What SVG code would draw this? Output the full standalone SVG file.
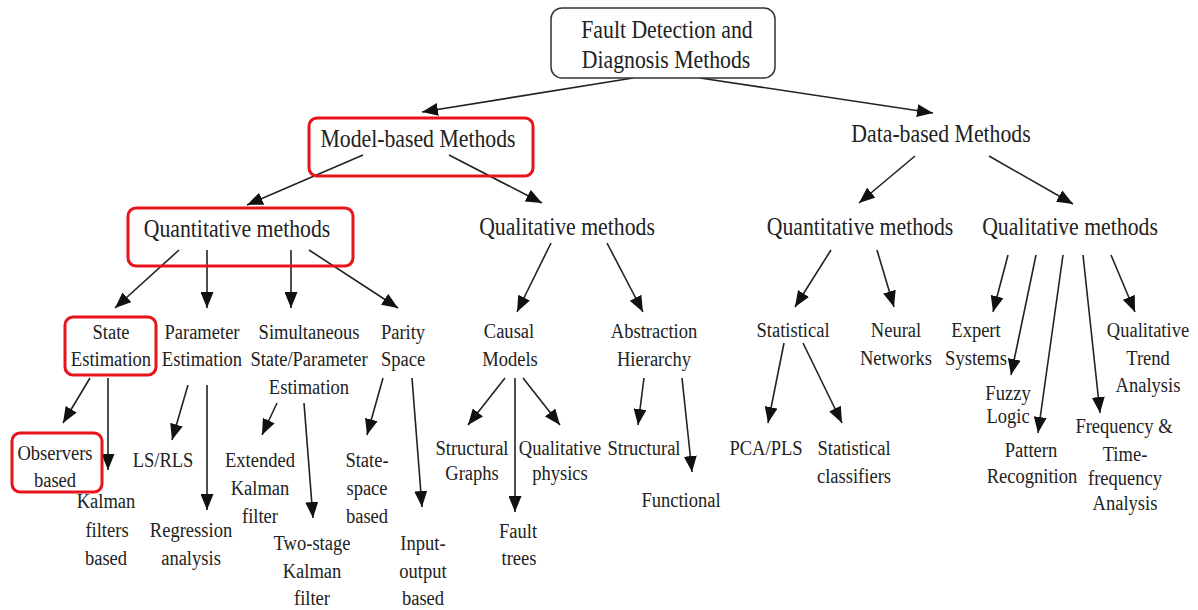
<svg xmlns="http://www.w3.org/2000/svg" width="1198" height="610" viewBox="0 0 1198 610">
  <style>
    text { font-family: "Liberation Serif", "Times New Roman", serif; fill: #222; text-anchor: middle; }
    .t1 { font-size: 25px; }
    .t2 { font-size: 21.3px; }
    .root { fill: #fff; stroke: #333; stroke-width: 1.5; }
    .hl { fill: none; stroke: #e8141c; stroke-width: 3; }
    .edge { fill: none; stroke: #222; stroke-width: 1.6; marker-end: url(#arrow); }
  </style>
  <defs>
    <marker id="arrow" markerUnits="userSpaceOnUse" markerWidth="16" markerHeight="13" refX="16" refY="6.5" orient="auto">
      <path d="M0,0 L16,6.5 L0,13 z" fill="#111"/>
    </marker>
  </defs>
  <rect width="1198" height="610" fill="#fff"/>

  <!-- connectors -->
  <g id="connectors">
    <line class="edge" x1="633" y1="78" x2="422" y2="112"/>
    <line class="edge" x1="700" y1="78" x2="933" y2="113"/>
    <line class="edge" x1="363" y1="155" x2="247" y2="205"/>
    <line class="edge" x1="449" y1="155" x2="542" y2="203"/>
    <line class="edge" x1="915" y1="156" x2="859" y2="203"/>
    <line class="edge" x1="989" y1="156" x2="1073" y2="204"/>

    <line class="edge" x1="179" y1="250" x2="115" y2="308"/>
    <line class="edge" x1="207" y1="250" x2="207" y2="308"/>
    <line class="edge" x1="291" y1="250" x2="291" y2="308"/>
    <line class="edge" x1="309" y1="250" x2="398" y2="308"/>

    <line class="edge" x1="551" y1="243" x2="517" y2="312"/>
    <line class="edge" x1="607" y1="243" x2="643" y2="312"/>

    <line class="edge" x1="831" y1="250" x2="795" y2="307"/>
    <line class="edge" x1="877" y1="250" x2="894" y2="307"/>

    <line class="edge" x1="1008" y1="255" x2="993" y2="312"/>
    <line class="edge" x1="1036" y1="255" x2="1011" y2="375"/>
    <line class="edge" x1="1063" y1="255" x2="1038" y2="433"/>
    <line class="edge" x1="1083" y1="255" x2="1100" y2="413"/>
    <line class="edge" x1="1111" y1="255" x2="1135" y2="312"/>

    <line class="edge" x1="90" y1="378" x2="63" y2="423"/>
    <line class="edge" x1="108" y1="378" x2="108" y2="470"/>
    <line class="edge" x1="188" y1="385" x2="172" y2="440"/>
    <line class="edge" x1="207" y1="385" x2="207" y2="510"/>
    <line class="edge" x1="277" y1="403" x2="262" y2="435"/>
    <line class="edge" x1="304" y1="403" x2="313" y2="518"/>
    <line class="edge" x1="383" y1="378" x2="367" y2="435"/>
    <line class="edge" x1="412" y1="378" x2="422" y2="507"/>

    <line class="edge" x1="505" y1="378" x2="468" y2="425"/>
    <line class="edge" x1="515" y1="378" x2="515" y2="512"/>
    <line class="edge" x1="523" y1="378" x2="560" y2="425"/>
    <line class="edge" x1="644" y1="378" x2="638" y2="425"/>
    <line class="edge" x1="682" y1="378" x2="692" y2="472"/>

    <line class="edge" x1="784" y1="343" x2="768" y2="423"/>
    <line class="edge" x1="803" y1="343" x2="842" y2="423"/>
  </g>

  <!-- root -->
  <g id="fdd-methods">
    <rect class="root" x="551" y="8" width="224" height="70" rx="11"/>
    <text class="t1" transform="translate(667,38) scale(0.87,1)">Fault Detection and</text>
    <text class="t1" transform="translate(666,68) scale(0.87,1)">Diagnosis Methods</text>
  </g>

  <!-- level 1 -->
  <g id="model-based">
    <rect class="hl" x="309" y="118" width="224" height="58" rx="8"/>
    <text class="t1" transform="translate(418,147) scale(0.87,1)">Model-based Methods</text>
  </g>
  <g id="data-based">
    <text class="t1" transform="translate(941,142) scale(0.87,1)">Data-based Methods</text>
  </g>

  <!-- level 2 -->
  <g id="model-quantitative">
    <rect class="hl" x="128" y="208" width="225" height="58" rx="8"/>
    <text class="t1" transform="translate(237,237) scale(0.87,1)">Quantitative methods</text>
  </g>
  <g id="model-qualitative">
    <text class="t1" transform="translate(567,235) scale(0.87,1)">Qualitative methods</text>
  </g>
  <g id="data-quantitative">
    <text class="t1" transform="translate(860,235) scale(0.87,1)">Quantitative methods</text>
  </g>
  <g id="data-qualitative">
    <text class="t1" transform="translate(1070,235) scale(0.87,1)">Qualitative methods</text>
  </g>

  <!-- level 3: model-based quantitative -->
  <g id="state-estimation">
    <rect class="hl" x="65" y="317" width="91" height="58" rx="8"/>
    <text class="t2" transform="translate(111,339) scale(0.87,1)">State</text>
    <text class="t2" transform="translate(111,366) scale(0.87,1)">Estimation</text>
  </g>
  <g id="parameter-estimation">
    <text class="t2" transform="translate(202,339) scale(0.87,1)">Parameter</text>
    <text class="t2" transform="translate(202,366) scale(0.87,1)">Estimation</text>
  </g>
  <g id="simultaneous-estimation">
    <text class="t2" transform="translate(309,339) scale(0.87,1)">Simultaneous</text>
    <text class="t2" transform="translate(309,366) scale(0.87,1)">State/Parameter</text>
    <text class="t2" transform="translate(309,394) scale(0.87,1)">Estimation</text>
  </g>
  <g id="parity-space">
    <text class="t2" transform="translate(403,339) scale(0.87,1)">Parity</text>
    <text class="t2" transform="translate(403,366) scale(0.87,1)">Space</text>
  </g>

  <!-- level 3: model-based qualitative -->
  <g id="causal-models">
    <text class="t2" transform="translate(509,338) scale(0.87,1)">Causal</text>
    <text class="t2" transform="translate(510,366) scale(0.87,1)">Models</text>
  </g>
  <g id="abstraction-hierarchy">
    <text class="t2" transform="translate(654,338) scale(0.87,1)">Abstraction</text>
    <text class="t2" transform="translate(654,366) scale(0.87,1)">Hierarchy</text>
  </g>

  <!-- level 3: data-based -->
  <g id="statistical">
    <text class="t2" transform="translate(793,337) scale(0.87,1)">Statistical</text>
  </g>
  <g id="neural-networks">
    <text class="t2" transform="translate(896,337) scale(0.87,1)">Neural</text>
    <text class="t2" transform="translate(896,365) scale(0.87,1)">Networks</text>
  </g>
  <g id="expert-systems">
    <text class="t2" transform="translate(976,337) scale(0.87,1)">Expert</text>
    <text class="t2" transform="translate(976,365) scale(0.87,1)">Systems</text>
  </g>
  <g id="qualitative-trend">
    <text class="t2" transform="translate(1148,337) scale(0.87,1)">Qualitative</text>
    <text class="t2" transform="translate(1148,365) scale(0.87,1)">Trend</text>
    <text class="t2" transform="translate(1148,392) scale(0.87,1)">Analysis</text>
  </g>
  <g id="fuzzy-logic">
    <text class="t2" transform="translate(1008,400) scale(0.87,1)">Fuzzy</text>
    <text class="t2" transform="translate(1008,423) scale(0.87,1)">Logic</text>
  </g>
  <g id="pattern-recognition">
    <text class="t2" transform="translate(1031,457) scale(0.87,1)">Pattern</text>
    <text class="t2" transform="translate(1032,483) scale(0.87,1)">Recognition</text>
  </g>
  <g id="frequency-analysis">
    <text class="t2" transform="translate(1124,433) scale(0.87,1)">Frequency &amp;</text>
    <text class="t2" transform="translate(1125,461) scale(0.87,1)">Time-</text>
    <text class="t2" transform="translate(1125,485) scale(0.87,1)">frequency</text>
    <text class="t2" transform="translate(1125,510) scale(0.87,1)">Analysis</text>
  </g>
  <g id="pca-pls">
    <text class="t2" transform="translate(766,455) scale(0.87,1)">PCA/PLS</text>
  </g>
  <g id="statistical-classifiers">
    <text class="t2" transform="translate(854,455) scale(0.87,1)">Statistical</text>
    <text class="t2" transform="translate(854,483) scale(0.87,1)">classifiers</text>
  </g>

  <!-- level 4: model-based leaves -->
  <g id="observers-based">
    <rect class="hl" x="12" y="433" width="90" height="59" rx="8"/>
    <text class="t2" transform="translate(55,460) scale(0.87,1)">Observers</text>
    <text class="t2" transform="translate(55,487) scale(0.87,1)">based</text>
  </g>
  <g id="kalman-filters">
    <text class="t2" transform="translate(106,508) scale(0.87,1)">Kalman</text>
    <text class="t2" transform="translate(107,537) scale(0.87,1)">filters</text>
    <text class="t2" transform="translate(106,565) scale(0.87,1)">based</text>
  </g>
  <g id="ls-rls">
    <text class="t2" transform="translate(163,467) scale(0.87,1)">LS/RLS</text>
  </g>
  <g id="regression">
    <text class="t2" transform="translate(191,537) scale(0.87,1)">Regression</text>
    <text class="t2" transform="translate(191,565) scale(0.87,1)">analysis</text>
  </g>
  <g id="extended-kalman">
    <text class="t2" transform="translate(260,467) scale(0.87,1)">Extended</text>
    <text class="t2" transform="translate(260,495) scale(0.87,1)">Kalman</text>
    <text class="t2" transform="translate(260,523) scale(0.87,1)">filter</text>
  </g>
  <g id="two-stage-kalman">
    <text class="t2" transform="translate(312,550) scale(0.87,1)">Two-stage</text>
    <text class="t2" transform="translate(312,578) scale(0.87,1)">Kalman</text>
    <text class="t2" transform="translate(312,605) scale(0.87,1)">filter</text>
  </g>
  <g id="state-space">
    <text class="t2" transform="translate(367,467) scale(0.87,1)">State-</text>
    <text class="t2" transform="translate(367,495) scale(0.87,1)">space</text>
    <text class="t2" transform="translate(367,523) scale(0.87,1)">based</text>
  </g>
  <g id="input-output">
    <text class="t2" transform="translate(423,550) scale(0.87,1)">Input-</text>
    <text class="t2" transform="translate(423,578) scale(0.87,1)">output</text>
    <text class="t2" transform="translate(423,605) scale(0.87,1)">based</text>
  </g>
  <g id="structural-graphs">
    <text class="t2" transform="translate(472,455) scale(0.87,1)">Structural</text>
    <text class="t2" transform="translate(472,480) scale(0.87,1)">Graphs</text>
  </g>
  <g id="qualitative-physics">
    <text class="t2" transform="translate(560,455) scale(0.87,1)">Qualitative</text>
    <text class="t2" transform="translate(560,480) scale(0.87,1)">physics</text>
  </g>
  <g id="fault-trees">
    <text class="t2" transform="translate(518,538) scale(0.87,1)">Fault</text>
    <text class="t2" transform="translate(519,565) scale(0.87,1)">trees</text>
  </g>
  <g id="structural">
    <text class="t2" transform="translate(644,455) scale(0.87,1)">Structural</text>
  </g>
  <g id="functional">
    <text class="t2" transform="translate(681,507) scale(0.87,1)">Functional</text>
  </g>
</svg>
